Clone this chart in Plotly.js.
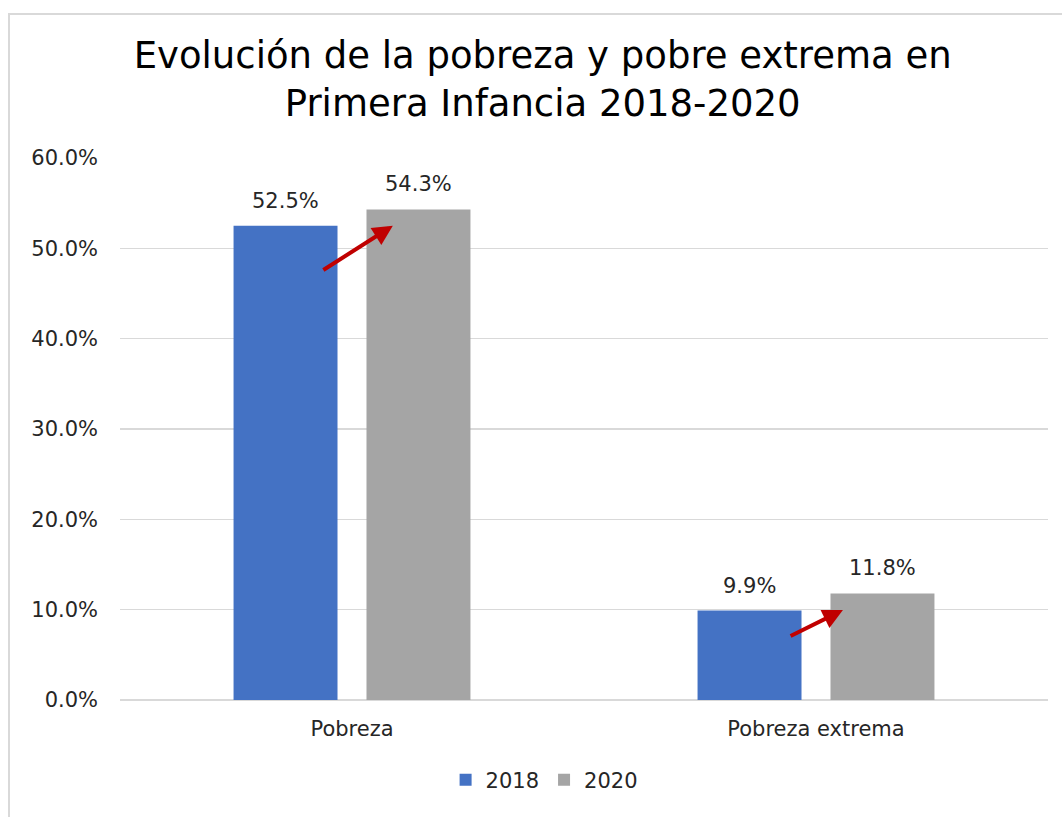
<!DOCTYPE html>
<html>
<head>
<meta charset="utf-8">
<script src="https://cdn.plot.ly/plotly-3.0.1.min.js"></script>
<style>
  html, body { margin: 0; padding: 0; background: #fff; }
  #wrap { position: relative; width: 1062px; height: 817px; }
  #chart { width: 1062px; height: 817px; }
  #frame { position: absolute; left: 8px; top: 13px; width: 1070px; height: 820px;
           border: 2px solid #D9D9D9; pointer-events: none; box-sizing: border-box; }
</style>
</head>
<body>
<div id="wrap">
  <div id="chart"></div>
  <div id="frame"></div>
</div>
<script>
const categories = ["Pobreza", "Pobreza extrema"];
const series2018 = [52.5, 9.9];
const series2020 = [54.3, 11.8];
const seriesNames = ["2018", "2020"];
const yTicks = [0, 10, 20, 30, 40, 50, 60];
const arrowTailOffset = [[-0.065, 47.5], [-0.058, 7.0]];
const arrowHeadOffset = [[0.088, 52.5], [0.058, 9.96]];

const FONT = "DejaVu Sans, sans-serif";
const TXT = "#262626";
const BARGAP = 0.427, BARGROUPGAP = 0.218;

function fmt(x) { return x.toFixed(1) + "%"; }

const traces = [
  { type: "bar", name: seriesNames[0], x: categories, y: series2018,
    marker: { color: "#4472C4" }, hoverinfo: "skip" },
  { type: "bar", name: seriesNames[1], x: categories, y: series2020,
    marker: { color: "#A5A5A5" }, hoverinfo: "skip" }
];

// bar centre offsets in category units (group of 2 bars)
const slot = (1 - BARGAP) / 2;
const offsets = [-slot / 2, slot / 2];
const labelAnns = [];
[series2018, series2020].forEach((s, k) => {
  s.forEach((v, i) => {
    labelAnns.push({ x: i + offsets[k], y: v, xref: "x", yref: "y", text: fmt(v),
      showarrow: false, yanchor: "bottom", yshift: 11,
      font: { family: FONT, size: 21, color: TXT } });
  });
});

const arrowAnns = categories.map((c, i) => ({
  x: i + arrowHeadOffset[i][0], y: arrowHeadOffset[i][1],
  ax: i + arrowTailOffset[i][0], ay: arrowTailOffset[i][1],
  xref: "x", yref: "y", axref: "x", ayref: "y",
  text: "", showarrow: true, arrowhead: 2, arrowsize: 1, arrowwidth: 4,
  arrowcolor: "#C00000", standoff: 0, startstandoff: 0
}));

const layout = {
  width: 1062, height: 817,
  margin: { l: 120, r: 14, t: 158, b: 117, autoexpand: false },
  paper_bgcolor: "#fff", plot_bgcolor: "#fff",
  font: { family: FONT, color: TXT, size: 21 },
  title: { text: "Evolución de la pobreza y pobre extrema en<br>Primera Infancia 2018-2020",
           font: { family: FONT, size: 37, color: "#000" }, x: 0.511, xanchor: "center",
           y: 0.917, yanchor: "top" },
  barmode: "group", bargap: BARGAP, bargroupgap: BARGROUPGAP,
  xaxis: { type: "category", tickfont: { size: 21, color: TXT }, showline: false,
           ticks: "", showgrid: false, zeroline: false, ticklabelstandoff: 14,
           range: [-0.5, 1.5] },
  yaxis: { range: [0, 60], tickvals: yTicks, ticktext: yTicks.map(fmt),
           tickfont: { size: 21, color: TXT }, showgrid: true, gridcolor: "#D9D9D9",
           gridwidth: 1.5, zeroline: true, zerolinecolor: "#D9D9D9", zerolinewidth: 1.5,
           ticks: "", showline: false, ticklabelstandoff: 21 },
  showlegend: true,
  legend: { orientation: "h", x: 0.457, xanchor: "center", y: -0.11, yanchor: "top",
            font: { size: 21, color: TXT }, itemwidth: 30, traceorder: "normal" },
  annotations: labelAnns.concat(arrowAnns)
};

Plotly.newPlot("chart", traces, layout, { displayModeBar: false, staticPlot: true });
</script>
</body>
</html>
